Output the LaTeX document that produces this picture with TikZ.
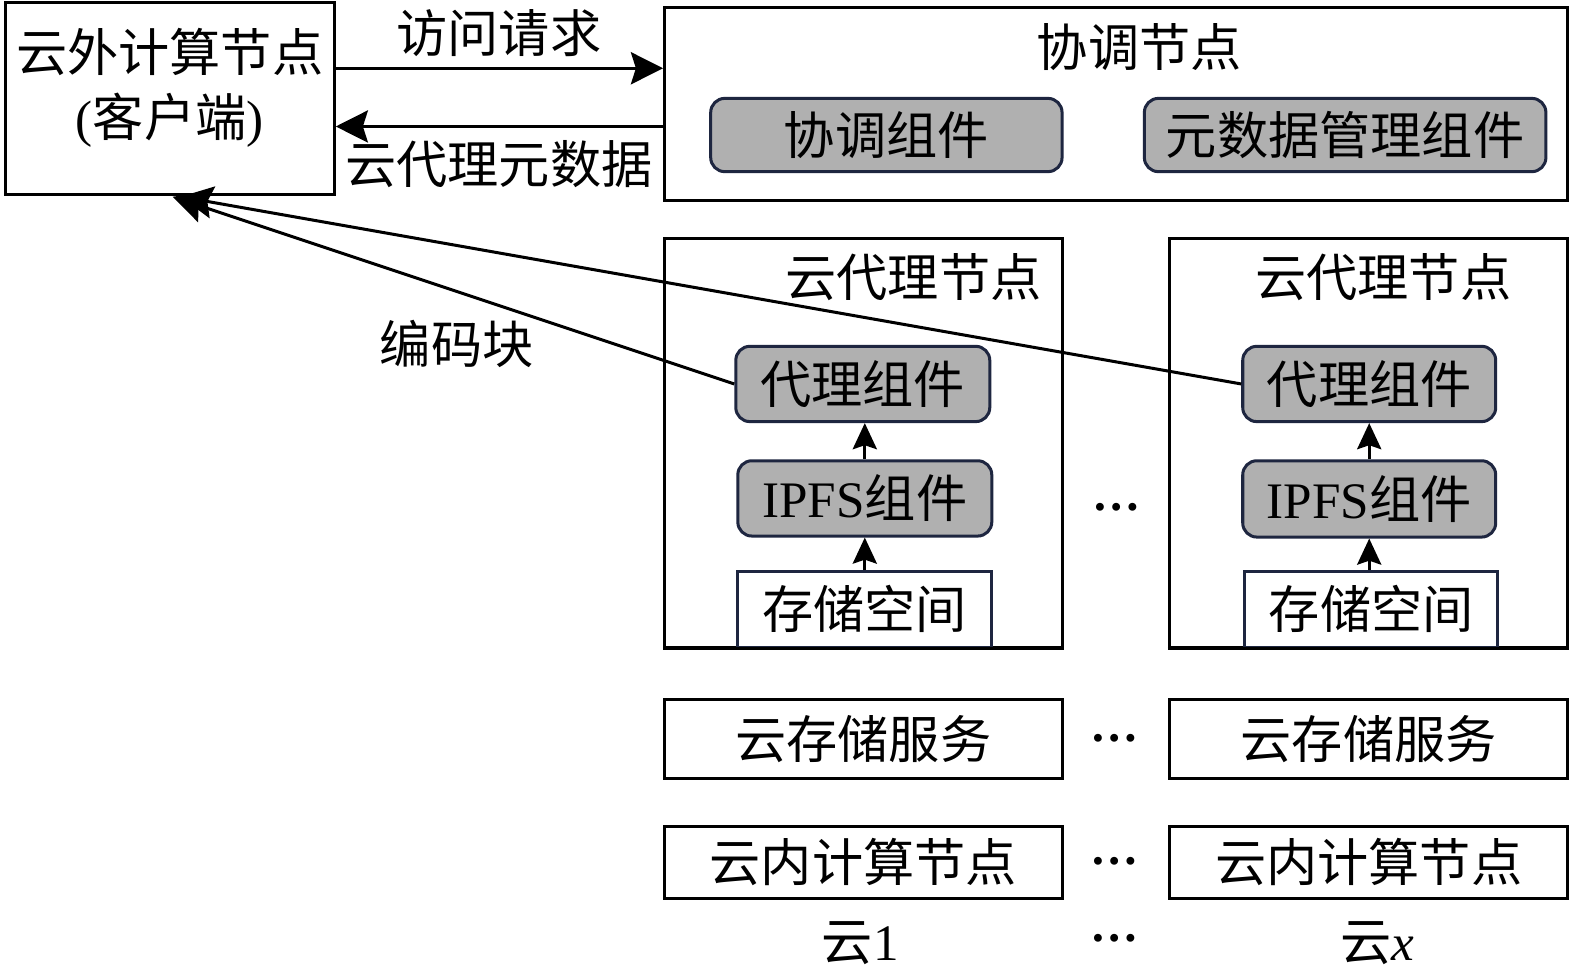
\documentclass[tikz,border=0pt]{standalone}
\usepackage{fontspec}
\setmainfont{Liberation Serif}
\newfontfamily\cjk{Noto Sans CJK SC}
\usetikzlibrary{arrows.meta}
\definecolor{navy}{RGB}{30,38,64}
\definecolor{boxgray}{RGB}{176,176,176}
\tikzset{
  txt/.style={font=\cjk\fontsize{25.5}{30}\selectfont, inner sep=0pt},
  outer/.style={draw=black, line width=1.5pt, inner sep=0pt},
  comp/.style={draw=navy, fill=boxgray, line width=1.5pt, rounded corners=7pt, inner sep=0pt, font=\cjk\fontsize{25.5}{30}\selectfont},
  store/.style={draw=navy, fill=white, line width=1.5pt, inner sep=0pt, font=\cjk\fontsize{25.5}{30}\selectfont},
  plain/.style={draw=black, line width=1.5pt, inner sep=0pt, font=\cjk\fontsize{25.5}{30}\selectfont},
  arr/.style={line width=1.5pt, -{Stealth[length=16pt,width=16pt,inset=2.5pt]}},
  uparr/.style={line width=1.5pt, -{Stealth[length=13pt,width=12pt,inset=2pt]}},
  dots/.style={font=\fontsize{24}{28}\selectfont\bfseries, inner sep=0pt}
}
\begin{document}
\begin{tikzpicture}[x=0.5pt,y=-0.5pt]
\useasboundingbox[fill=white] (0,0) rectangle (1569,974.3);
% client
\node[outer, minimum width=164pt, minimum height=96pt] (client) at (169,98) {};
\node[txt] (clientt1) at (169,52) {云外计算节点};
\node[txt] (clientt2) at (169,120) {{\rmfamily(}客户端{\rmfamily)}};
% coordinator
\node[outer, minimum width=450pt, minimum height=96.5pt] (coord) at (1112,103.5) {};
\node[txt] (coordt) at (1135,47) {协调节点};
\node[comp, minimum width=175pt, minimum height=36.5pt] (cg1) at (883,134.5) {协调组件};
\node[comp, minimum width=200pt, minimum height=36.5pt] (cg2) at (1340,134.5) {元数据管理组件};
% arrows client <-> coordinator
\draw[arr] (client.east |- 0,68) -- (coord.west |- 0,68);
\draw[arr] (coord.west |- 0,126) -- (client.east |- 0,126);
\node[txt] (lreq) at (497,33) {访问请求};
\node[txt] (lmeta) at (497,163) {云代理元数据};
% proxy nodes
\node[outer, minimum width=198pt, minimum height=203.5pt] (pn1) at (860,441.5) {};
\node[outer, minimum width=198.5pt, minimum height=203.5pt] (pn2) at (1363.5,441.5) {};
\node[txt] (pn1t) at (910,276) {云代理节点};
\node[txt] (pn2t) at (1378,276) {云代理节点};
\node[comp, minimum width=126.5pt, minimum height=37.5pt] (pc1) at (859.5,382.5) {代理组件};
\node[comp, minimum width=126pt, minimum height=37.5pt] (pc2) at (1364,382.5) {代理组件};
\node[comp, minimum width=126.5pt, minimum height=37.5pt] (ip1) at (861.5,496.5) {{\rmfamily IPFS}组件};
\node[comp, minimum width=126pt, minimum height=38pt] (ip2) at (1364,497) {{\rmfamily IPFS}组件};
\node[store, minimum width=126.5pt, minimum height=38pt] (st1) at (861.5,607) {存储空间};
\node[store, minimum width=126pt, minimum height=38pt] (st2) at (1366,607) {存储空间};
\draw[line width=1.5pt] (pn1.south west) -- (pn1.south east);
\draw[line width=1.5pt] (pn2.south west) -- (pn2.south east);
\draw[uparr] (st1.north -| ip1.north) -- (ip1.south);
\draw[uparr] (ip1.north) -- (pc1.south -| ip1.north);
\draw[uparr] (st2.north -| ip2.north) -- (ip2.south);
\draw[uparr] (ip2.north) -- (pc2.south -| ip2.north);
% long arrows to client
\coordinate (tA) at (172,196);
\coordinate (tB) at (180,196);
\draw[arr] (pc1.west) -- (tA);
\draw[arr] (pc2.west) -- (tB);
\node[txt] (lcode) at (455,343) {编码块};
% storage services and compute nodes
\node[plain, minimum width=198pt, minimum height=39.5pt] (cs1) at (860,736.5) {云存储服务};
\node[plain, minimum width=198.5pt, minimum height=39.5pt] (cs2) at (1363.5,736.5) {云存储服务};
\node[plain, minimum width=198pt, minimum height=36pt] (ic1) at (860,859) {云内计算节点};
\node[plain, minimum width=198.5pt, minimum height=36pt] (ic2) at (1363.5,859) {云内计算节点};
\node[txt] (c1) at (857,940) {云{\rmfamily 1}};
\node[txt] (cx) at (1372,940) {云{\rmfamily\itshape x}};
% dots
\node[dots] (d1) at (1112,505) {…};
\node[dots] (d2) at (1110,735) {…};
\node[dots] (d3) at (1110,858) {…};
\node[dots] (d4) at (1110,935) {…};
\end{tikzpicture}
\end{document}
